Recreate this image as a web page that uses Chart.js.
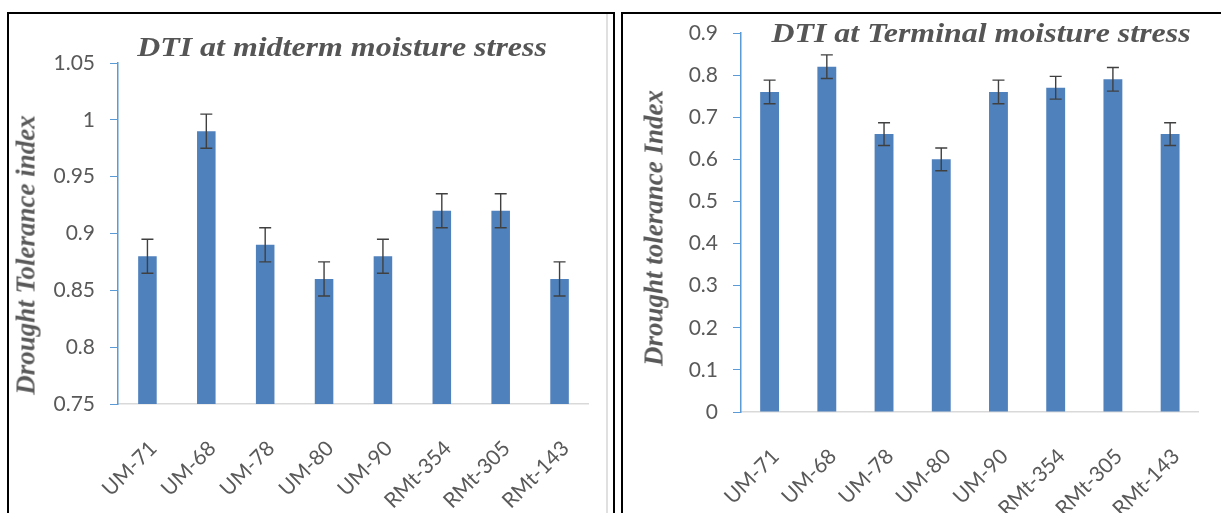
<!DOCTYPE html>
<html>
<head>
<meta charset="utf-8">
<script src="https://cdn.jsdelivr.net/npm/chart.js@4.4.1/dist/chart.umd.min.js"></script>
<style>
  body { margin: 0; background: #fff; width: 1221px; height: 513px; overflow: hidden; position: relative; }
  .frame { position: absolute; border: 2px solid #000; border-bottom: none; }
  .edge { position: absolute; background: #e0e0e0; }
  .cv { position: absolute; top: 0; }
  .title { position: absolute; font: bold italic 28px/28px "Liberation Serif", serif; color: #555; white-space: nowrap; transform: translateX(-50%) scaleX(1.14); }
  .ytitle { position: absolute; font: bold italic 27px/27px "Liberation Serif", serif; color: #595959; white-space: nowrap; transform: translate(-50%, -50%) rotate(-90deg); }
</style>
</head>
<body>
<div class="frame" style="left:7px;top:12px;width:604px;height:520px"></div>
<div class="edge" style="left:606px;top:14px;width:2px;height:520px"></div>
<div class="frame" style="left:621px;top:12px;width:700px;height:520px"></div>

<div class="cv" style="left:0;width:610px;height:513px"><canvas id="midterm"></canvas></div>
<div class="cv" style="left:610px;width:611px;height:513px"><canvas id="terminal"></canvas></div>

<div class="title" style="left:342px;top:33px">DTI at midterm moisture stress</div>
<div class="title" style="left:981px;top:19px">DTI at Terminal moisture stress</div>
<div class="ytitle" style="left:26px;top:255px">Drought Tolerance index</div>
<div class="ytitle" style="left:654px;top:228px">Drought tolerance Index</div>

<script>
// genotypes
const genotypes = ['UM-71', 'UM-68', 'UM-78', 'UM-80', 'UM-90', 'RMt-354', 'RMt-305', 'RMt-143'];

// DTI at midterm moisture stress
const midtermDTI = [0.88, 0.99, 0.89, 0.86, 0.88, 0.92, 0.92, 0.86];
const midtermErr = [0.015, 0.015, 0.015, 0.015, 0.015, 0.015, 0.015, 0.015];
const midtermTicks = [0.75, 0.8, 0.85, 0.9, 0.95, 1, 1.05];

// DTI at terminal moisture stress
const terminalDTI = [0.76, 0.82, 0.66, 0.60, 0.76, 0.77, 0.79, 0.66];
const terminalErr = [0.028, 0.028, 0.027, 0.027, 0.028, 0.027, 0.028, 0.027];
const terminalTicks = [0, 0.1, 0.2, 0.3, 0.4, 0.5, 0.6, 0.7, 0.8, 0.9];

const barColor = '#4f81bd';
const textColor = '#595959';
const tickFont = { family: 'Lato', size: 21 };

// error bars drawn from the bar elements and the y scale
const errorBars = {
  id: 'errorBars',
  afterDatasetsDraw(chart, args, opts) {
    const ctx = chart.ctx;
    const y = chart.scales.y;
    const meta = chart.getDatasetMeta(0);
    const vals = chart.data.datasets[0].data;
    ctx.save();
    ctx.strokeStyle = '#404040';
    ctx.lineWidth = 1.4;
    meta.data.forEach((bar, i) => {
      const top = y.getPixelForValue(vals[i] + opts.err[i]);
      const bot = y.getPixelForValue(vals[i] - opts.err[i]);
      const half = 6;
      ctx.beginPath();
      ctx.moveTo(bar.x, top); ctx.lineTo(bar.x, bot);
      ctx.moveTo(bar.x - half, top); ctx.lineTo(bar.x + half, top);
      ctx.moveTo(bar.x - half, bot); ctx.lineTo(bar.x + half, bot);
      ctx.stroke();
    });
    ctx.restore();
  }
};

function makeChart(id, values, errors, ticks, area, barPct) {
  const H = 513;
  return new Chart(document.getElementById(id), {
    type: 'bar',
    data: {
      labels: genotypes,
      datasets: [{ data: values, backgroundColor: barColor, borderWidth: 0 }]
    },
    options: {
      responsive: true,
      maintainAspectRatio: false,
      animation: false,
      layout: { padding: { left: 0, right: area.W - area.right, top: area.top, bottom: 0 } },
      plugins: { legend: { display: false }, tooltip: { enabled: false }, errorBars: { err: errors } },
      datasets: { bar: { categoryPercentage: 1, barPercentage: barPct } },
      scales: {
        x: {
          afterFit: s => { s.height = H - area.bottom; },
          grid: { display: false, drawTicks: false },
          border: { color: '#d9d9d9', width: 1.5 },
          ticks: { color: textColor, font: tickFont, maxRotation: 45, minRotation: 45, padding: 32, labelOffset: 6, autoSkip: false }
        },
        y: {
          min: ticks[0],
          max: ticks[ticks.length - 1],
          afterBuildTicks: s => { s.ticks = ticks.map(v => ({ value: v })); },
          afterFit: s => { s.width = area.left; },
          grid: { drawOnChartArea: false, drawTicks: true, tickLength: 8, color: '#5b9bd5' },
          border: { color: '#5b9bd5', width: 1.5 },
          ticks: { color: textColor, font: tickFont, padding: 15, callback: v => String(v) }
        }
      }
    },
    plugins: [errorBars]
  });
}

makeChart('midterm', midtermDTI, midtermErr, midtermTicks, { W: 610, left: 118, right: 600, top: 63, bottom: 404 }, 0.315);
makeChart('terminal', terminalDTI, terminalErr, terminalTicks, { W: 611, left: 131, right: 594, top: 33, bottom: 412 }, 0.33);
</script>
</body>
</html>
